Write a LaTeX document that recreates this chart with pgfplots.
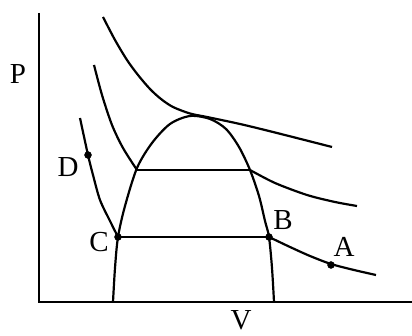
\documentclass[border=0pt]{standalone}
\usepackage{pgfplots}
\pgfplotsset{compat=1.18}
\usepackage{fontspec}
\setmainfont{Liberation Serif}
\tikzset{lab/.style={font=\fontsize{29}{32}\selectfont, inner sep=0pt, anchor=center}}
\begin{document}
\begin{tikzpicture}
\clip (0,0) rectangle (412pt,336pt);
\begin{axis}[at={(0,0)}, anchor=south west, scale only axis,
  width=412pt, height=336pt, xmin=0, xmax=412, ymin=0, ymax=336,
  hide axis, clip=false]
% axes
\addplot[black, line width=2.2pt] coordinates {(39,323) (39,34) (412,34)};
% saturation dome
\addplot[black, line width=2.2pt, smooth] coordinates {(113,34) (115,68) (118,99) (125,130) (137,168) (152,193) (170,212) (190,220) (210,217) (226,207) (239,189) (250,166) (259,140) (265,115) (269,99) (272,68) (274,34)};
% lowest isotherm (D, C, B, A)
\addplot[black, line width=2.2pt, smooth] coordinates {(80,218) (88,181) (93,161) (100,136) (110,115) (118,99)};
\addplot[black, line width=2.2pt] coordinates {(118,99) (269,99)};
\addplot[black, line width=2.2pt, smooth] coordinates {(269,99) (290,89) (310,80) (331,72) (354,66) (376,61)};
% middle isotherm
\addplot[black, line width=2.2pt, smooth] coordinates {(94,271) (102,241) (112,211) (123,188) (137,166)};
\addplot[black, line width=2.2pt] coordinates {(137,166) (250,166)};
\addplot[black, line width=2.2pt, smooth] coordinates {(250,166) (275,153) (307,141) (335,134) (357,130)};
% critical isotherm
\addplot[black, line width=2.2pt, smooth] coordinates {(103,319) (115,296) (127,276) (138,261) (150,247) (161,237) (173,229) (190,222.5) (207,219) (240,212) (273,204) (332,189)};
% points
\addplot[black, only marks, mark=*, mark size=3.5pt] coordinates {(88,181) (118,99) (269,99) (331,71)};
% labels
\node[lab] at (axis cs:18,262) {P};
\node[lab] at (axis cs:241,16) {V};
\node[lab] at (axis cs:68,169) {D};
\node[lab] at (axis cs:99,94) {C};
\node[lab] at (axis cs:283,116) {B};
\node[lab] at (axis cs:344,89) {A};
\end{axis}
\end{tikzpicture}
\end{document}
